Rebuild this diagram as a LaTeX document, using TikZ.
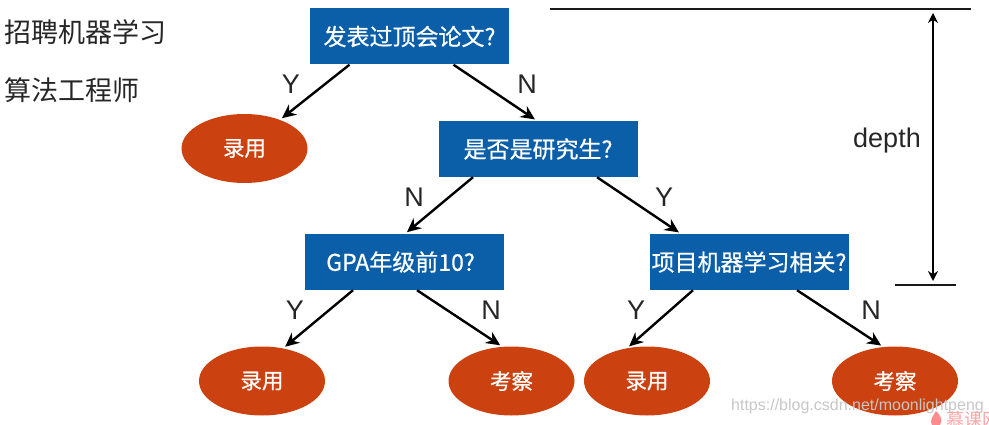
\documentclass[tikz,border=0pt]{standalone}
\usepackage{fontspec}
\setmainfont{Liberation Sans}
\newfontfamily\cjk{Noto Sans CJK SC}
\newfontfamily\cjkheavy{Noto Sans CJK SC}[FakeBold=0.6]
\usetikzlibrary{arrows.meta,shapes}
\definecolor{boxblue}{HTML}{0B5FA9}
\definecolor{leafred}{HTML}{CB410F}
\tikzstyle{question} = [rectangle, minimum width=199pt, minimum height=56pt, text centered, inner sep=0pt, fill=boxblue, text=white, font=\cjkheavy\fontsize{23}{28}\selectfont]
\tikzstyle{leaf} = [ellipse, minimum width=126pt, minimum height=69pt, text centered, inner sep=0pt, fill=leafred, text=white, font=\cjkheavy\fontsize{21.5}{26}\selectfont]
\tikzstyle{branch} = [font=\fontsize{27}{32}\selectfont, inner sep=0pt, text=black!85]
\tikzstyle{heading} = [font=\cjk\fontsize{27}{32}\selectfont, inner sep=0pt, anchor=west, text=black!85]
\tikzstyle{arrow} = [line width=2.4pt,-{Stealth[length=14pt,width=13pt]},shorten >=2.5pt]
\tikzstyle{rule} = [line width=2.8pt, black!90]
\begin{document}
\begin{tikzpicture}[x=1pt,y=1pt,node distance=112.5pt]
\useasboundingbox (0,0) rectangle (989,-425);
\node (root) [question] at (409.5,-36.5) {发表过顶会论文?};
\node (grad) [question, below of=root,xshift=128.5pt] {是否是研究生?};
\node (gpa)  [question, below of=grad,xshift=-134pt,yshift=-0.5pt] {GPA年级前10?\kern7pt};
\node (proj) [question, below of=grad,xshift=211pt,yshift=-0.5pt] {项目机器学习相关?};
\node (hireA) [leaf, left of=root,xshift=-52.5pt,yshift=-112pt] {录用};
\node (hireB) [leaf, below of=gpa,xshift=-142pt,yshift=-6.5pt] {录用};
\node (viewA) [leaf, below of=gpa,xshift=107.5pt,yshift=-6.5pt] {考察};
\node (hireC) [leaf, below of=proj,xshift=-102pt,yshift=-6.5pt] {录用};
\node (viewB) [leaf, below of=proj,xshift=146pt,yshift=-6.5pt] {考察};

\node (titleA) [heading] at (4,-32) {招聘机器学习};
\node (titleB) [heading] at (4,-90) {算法工程师};

\draw [arrow] ([xshift=-60pt]root.south) -- (hireA.39);
\draw [arrow] ([xshift=44pt]root.south) -- ([xshift=-1pt]grad.north);
\draw [arrow] ([xshift=-65pt]grad.south) -- ([xshift=1pt]gpa.north);
\draw [arrow] ([xshift=59pt]grad.south) -- ([xshift=-68pt]proj.north);
\draw [arrow] ([xshift=-51pt]gpa.south) -- (hireB.57);
\draw [arrow] ([xshift=13pt]gpa.south) -- (viewA.105);
\draw [arrow] ([xshift=-56pt]proj.south) -- (hireC.121);
\draw [arrow] ([xshift=48pt]proj.south) -- (viewB.109);

\node (yA) [branch] at (291,-84) {Y};
\node (nA) [branch] at (527,-84) {N};
\node (nB) [branch] at (414,-197) {N};
\node (yB) [branch] at (664,-197) {Y};
\node (yC) [branch] at (295,-310) {Y};
\node (nC) [branch] at (491,-310) {N};
\node (yD) [branch] at (636,-310) {Y};
\node (nD) [branch] at (871,-310) {N};

\coordinate (topL) at (550,-9);
\coordinate (topR) at (971,-9);
\coordinate (lowL) at (895,-285);
\coordinate (lowR) at (956,-285);
\coordinate (spanT) at (933,-13);
\coordinate (spanB) at (933,-281);
\draw [rule] (topL) -- (topR);
\draw [rule] (lowL) -- (lowR);
\draw [line width=1.8pt,{Stealth[length=10pt,width=10pt]}-{Stealth[length=10pt,width=10pt]}] (spanT) -- (spanB);
\node (depth) [branch] at (887,-141) {depth};

\node (mark) [inner sep=0pt, anchor=west, text=black!22, font=\fontsize{16}{20}\selectfont] at (731,-406) {https://blog.csdn.net/moonlightpeng};
\node (site) [inner sep=0pt, anchor=west, text=red!35, font=\cjk\fontsize{18}{20}\selectfont] at (946,-420) {慕课网};
% flame
\fill [red!45] (936,-411) .. controls (941,-416) and (943,-420) .. (940,-425) -- (932,-425) .. controls (929,-421) and (933,-416) .. (936,-411);
\end{tikzpicture}
\end{document}
